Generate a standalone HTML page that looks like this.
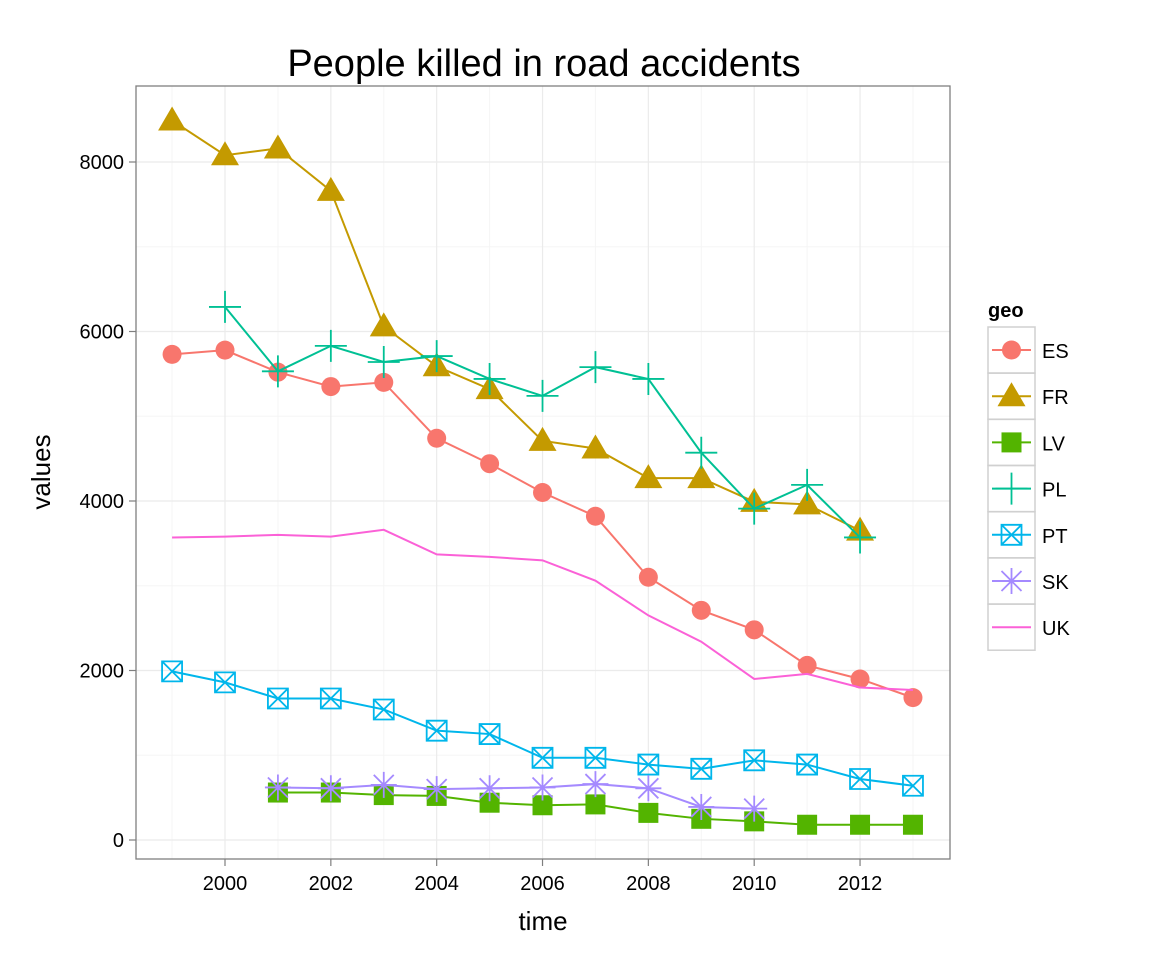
<!DOCTYPE html>
<html><head><meta charset="utf-8"><style>
body{margin:0;background:#fff;font-family:"Liberation Sans",Arial,sans-serif}
svg text{font-family:"Liberation Sans",Arial,sans-serif}
</style></head><body>
<svg id="chart" width="1152" height="960" xmlns="http://www.w3.org/2000/svg">
<rect width="1152" height="960" fill="#fff"/>
<g id="grid"></g>
<g id="series"></g>
<rect x="136" y="86" width="814" height="773" fill="none" stroke="#7f7f7f" stroke-width="1.3"/>
<g id="axes"></g>
<text x="544" y="76" font-size="38" text-anchor="middle">People killed in road accidents</text>
<text x="543" y="930" font-size="26" text-anchor="middle">time</text>
<text transform="translate(50,472) rotate(-90)" font-size="26" text-anchor="middle">values</text>
<g id="legend"></g>
</svg>
<script>
const years = [1999,2000,2001,2002,2003,2004,2005,2006,2007,2008,2009,2010,2011,2012,2013];
const seriesNames = ["ES","FR","LV","PL","PT","SK","UK"];
const ES = [5730,5780,5520,5350,5400,4740,4440,4100,3820,3100,2710,2480,2060,1900,1680];
const FR = [8490,8080,8160,7660,6060,5590,5320,4710,4620,4270,4270,3990,3960,3650,null];
const LV = [null,null,560,560,530,520,440,410,420,320,250,220,180,180,180];
const PL = [null,6290,5530,5830,5640,5710,5440,5240,5580,5440,4570,3910,4190,3570,null];
const PT = [1990,1860,1670,1670,1540,1290,1250,970,970,890,840,940,890,720,640];
const SK = [null,null,620,610,650,600,610,620,660,610,390,370,null,null,null];
const UK = [3570,3580,3600,3580,3660,3370,3340,3300,3060,2650,2340,1900,1960,1800,1770];
const xTicks = [2000,2002,2004,2006,2008,2010,2012];
const yTicks = [0,2000,4000,6000,8000];
const colors = {ES:"#F8766D",FR:"#C49A00",LV:"#53B400",PL:"#00C094",PT:"#00B6EB",SK:"#A58AFF",UK:"#FB61D7"};
const shapes = {ES:"circle",FR:"triangle",LV:"square",PL:"plus",PT:"boxx",SK:"star",UK:"none"};
const dataMap = {ES,FR,LV,PL,PT,SK,UK};
const NS="http://www.w3.org/2000/svg";
const x = v => 225 + (v-2000)*52.92;
const y = v => 840 - v*0.08475;
function mk(tag,attrs,parent){const e=document.createElementNS(NS,tag);for(const k in attrs)e.setAttribute(k,attrs[k]);parent.appendChild(e);return e;}
const grid=document.getElementById('grid'), axes=document.getElementById('axes'), ser=document.getElementById('series'), leg=document.getElementById('legend');
mk('rect',{x:136,y:86,width:814,height:773,fill:'#fff'},grid);
for(let yr=1999;yr<=2013;yr+=2){const l=mk('line',{x1:x(yr),x2:x(yr),y1:86,y2:859,stroke:'#f5f5f5','stroke-width':1},grid);

}
for(let v=1000;v<=9000;v+=2000){if(y(v)<86)continue;const l=mk('line',{x1:136,x2:950,y1:y(v),y2:y(v),stroke:'#f5f5f5','stroke-width':1},grid);

}
xTicks.forEach(t=>{const l=mk('line',{x1:x(t),x2:x(t),y1:86,y2:859,stroke:'#ebebeb','stroke-width':1.2},grid);


mk('line',{x1:x(t),x2:x(t),y1:859,y2:866,stroke:'#7f7f7f','stroke-width':1.2},axes);
const tx=mk('text',{x:x(t),y:890,'font-size':20,'text-anchor':'middle',fill:'#000'},axes);tx.textContent=t;

});
yTicks.forEach(t=>{const l=mk('line',{x1:136,x2:950,y1:y(t),y2:y(t),stroke:'#ebebeb','stroke-width':1.2},grid);


mk('line',{x1:129,x2:136,y1:y(t),y2:y(t),stroke:'#7f7f7f','stroke-width':1.2},axes);
const tx=mk('text',{x:124,y:y(t)+7,'font-size':20,'text-anchor':'end',fill:'#000'},axes);tx.textContent=t;

});
function shape(kind,cx,cy,col,parent){
 if(kind==='circle')mk('circle',{cx,cy,r:9.5,fill:col},parent);
 else if(kind==='triangle')mk('polygon',{points:`${cx},${cy-14} ${cx-14},${cy+10} ${cx+14},${cy+10}`,fill:col},parent);
 else if(kind==='square')mk('rect',{x:cx-10,y:cy-10,width:20,height:20,fill:col},parent);
 else if(kind==='plus')mk('path',{d:`M${cx-16},${cy}H${cx+16}M${cx},${cy-16}V${cy+16}`,stroke:col,'stroke-width':1.8,fill:'none'},parent);
 else if(kind==='boxx')mk('path',{d:`M${cx-10},${cy-10}h20v20h-20zM${cx-10},${cy-10}L${cx+10},${cy+10}M${cx+10},${cy-10}L${cx-10},${cy+10}`,stroke:col,'stroke-width':1.8,fill:'none'},parent);
 else if(kind==='star')mk('path',{d:`M${cx-13},${cy}H${cx+13}M${cx},${cy-13}V${cy+13}M${cx-10},${cy-10}L${cx+10},${cy+10}M${cx+10},${cy-10}L${cx-10},${cy+10}`,stroke:col,'stroke-width':1.8,fill:'none'},parent);
}
seriesNames.forEach(n=>{const d=dataMap[n],c=colors[n];
 const g=mk('g',{},ser);
 
 
 let pts=[];years.forEach((yr,i)=>{if(d[i]!=null)pts.push([x(yr),y(d[i])]);});
 const pl=mk('polyline',{points:pts.map(p=>p.join(',')).join(' '),fill:'none',stroke:c,'stroke-width':2},g);
 
 
 pts.forEach(p=>shape(shapes[n],p[0],p[1],c,g));
});
const lt=mk('text',{x:988,y:317,'font-size':20,'font-weight':'bold'},leg);lt.textContent='geo';


seriesNames.forEach((n,i)=>{const cy=350+i*46.2;const g=mk('g',{},leg);
 
 
 mk('rect',{x:988,y:cy-23,width:47,height:46,fill:'#fff',stroke:'#d0d0d0','stroke-width':1.5},g);
 mk('line',{x1:992,x2:1031,y1:cy,y2:cy,stroke:colors[n],'stroke-width':2},g);
 shape(shapes[n],1011.5,cy,colors[n],g);
 const t=mk('text',{x:1042,y:cy+8,'font-size':20},g);t.textContent=n;});
</script>
</body></html>
